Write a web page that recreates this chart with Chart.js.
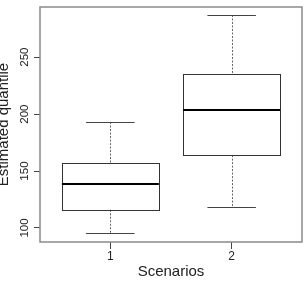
<!DOCTYPE html>
<html>
<head>
<meta charset="utf-8">
<script src="https://cdn.jsdelivr.net/npm/chart.js@4/dist/chart.umd.min.js"></script>
<style>
  html, body { margin: 0; padding: 0; background: #fff; }
  #wrap { width: 304px; height: 283px; }
</style>
</head>
<body>
<div id="wrap"><canvas id="chart"></canvas></div>
<script>
const scenarios = [1, 2];
const whiskerLow = [95.5, 118];
const quart1 = [116, 164];
const medians = [138.5, 203.5];
const quart3 = [157, 235];
const whiskerHigh = [193, 287];
const yTicks = [100, 150, 200, 250];

const xTitle = "Scenarios";
const yTitle = "Estimated quantile";

const font = '"Liberation Sans", Arial, sans-serif';

// boxes, frame, rotated labels
const boxPlugin = {
    id: "boxes",
    afterDatasetsDraw(chart) {
        const ctx = chart.ctx;
        const x = chart.scales.x;
        const y = chart.scales.y;
        ctx.save();
        scenarios.forEach((s, i) => {
            const cx = x.getPixelForValue(s);
            const left = x.getPixelForValue(s - 0.4);
            const right = x.getPixelForValue(s + 0.4);
            const capL = x.getPixelForValue(s - 0.2);
            const capR = x.getPixelForValue(s + 0.2);
            const yLo = y.getPixelForValue(whiskerLow[i]);
            const yQ1 = y.getPixelForValue(quart1[i]);
            const yMed = y.getPixelForValue(medians[i]);
            const yQ3 = y.getPixelForValue(quart3[i]);
            const yHi = y.getPixelForValue(whiskerHigh[i]);

            // whiskers
            ctx.strokeStyle = "#666";
            ctx.lineWidth = 1;
            ctx.setLineDash([2, 1.5]);
            ctx.beginPath();
            ctx.moveTo(Math.round(cx) + 0.5, yHi);
            ctx.lineTo(Math.round(cx) + 0.5, yQ3);
            ctx.moveTo(Math.round(cx) + 0.5, yQ1);
            ctx.lineTo(Math.round(cx) + 0.5, yLo);
            ctx.stroke();
            ctx.setLineDash([]);

            // caps
            ctx.strokeStyle = "#444";
            ctx.beginPath();
            ctx.moveTo(capL, Math.round(yHi) + 0.5);
            ctx.lineTo(capR, Math.round(yHi) + 0.5);
            ctx.moveTo(capL, Math.round(yLo) + 0.5);
            ctx.lineTo(capR, Math.round(yLo) + 0.5);
            ctx.stroke();

            // box
            ctx.strokeStyle = "#333";
            ctx.strokeRect(Math.round(left) + 0.5, Math.round(yQ3) + 0.5,
                Math.round(right - left), Math.round(yQ1 - yQ3));

            // median
            ctx.strokeStyle = "#000";
            ctx.lineWidth = 2;
            ctx.beginPath();
            ctx.moveTo(left, Math.round(yMed));
            ctx.lineTo(right, Math.round(yMed));
            ctx.stroke();
        });

        // frame
        const a = chart.chartArea;
        ctx.strokeStyle = "#8a8a8a";
        ctx.lineWidth = 1.5;
        ctx.strokeRect(a.left, a.top, a.right - a.left, a.bottom - a.top);

        // y tick labels, read bottom to top
        ctx.fillStyle = "#222";
        ctx.font = "11.5px " + font;
        ctx.textAlign = "center";
        ctx.textBaseline = "middle";
        yTicks.forEach(v => {
            ctx.save();
            ctx.translate(25, y.getPixelForValue(v));
            ctx.rotate(-Math.PI / 2);
            ctx.fillText(String(v), 0, 0);
            ctx.restore();
        });

        // axis titles (y title runs off the left edge, as in the original)
        ctx.font = "15px " + font;
        ctx.textBaseline = "alphabetic";
        ctx.save();
        ctx.translate(8, (a.top + a.bottom) / 2);
        ctx.rotate(-Math.PI / 2);
        ctx.fillText(yTitle, 0, 0);
        ctx.restore();

        ctx.textBaseline = "middle";
        ctx.fillText(xTitle, (a.left + a.right) / 2, 272);
        ctx.restore();
    }
};

new Chart(document.getElementById("chart"), {
    type: "scatter",
    data: {
        datasets: [{
            data: scenarios.map((s, i) => ({ x: s, y: medians[i] })),
            pointRadius: 0,
            pointHoverRadius: 0
        }]
    },
    options: {
        responsive: true,
        maintainAspectRatio: false,
        animation: false,
        events: [],
        layout: { padding: { top: 7, right: 2, left: 0, bottom: 0 } },
        plugins: {
            legend: { display: false },
            tooltip: { enabled: false }
        },
        scales: {
            x: {
                type: "linear",
                min: 0.42,
                max: 2.58,
                afterBuildTicks: scale => {
                    scale.ticks = scenarios.map(v => ({ value: v }));
                },
                afterFit: scale => { scale.height = 41; },
                border: { display: false },
                grid: {
                    drawOnChartArea: false,
                    drawTicks: true,
                    tickLength: 7,
                    color: "#444"
                },
                ticks: {
                    padding: 0,
                    color: "#222",
                    font: { family: font, size: 12 }
                }
            },
            y: {
                type: "linear",
                min: 87.7,
                max: 294,
                afterBuildTicks: scale => {
                    scale.ticks = yTicks.map(v => ({ value: v }));
                },
                afterFit: scale => { scale.width = 40; },
                border: { display: false },
                grid: {
                    drawOnChartArea: false,
                    drawTicks: true,
                    tickLength: 6,
                    color: "#444"
                },
                ticks: { display: false }
            }
        }
    },
    plugins: [boxPlugin]
});
</script>
</body>
</html>
